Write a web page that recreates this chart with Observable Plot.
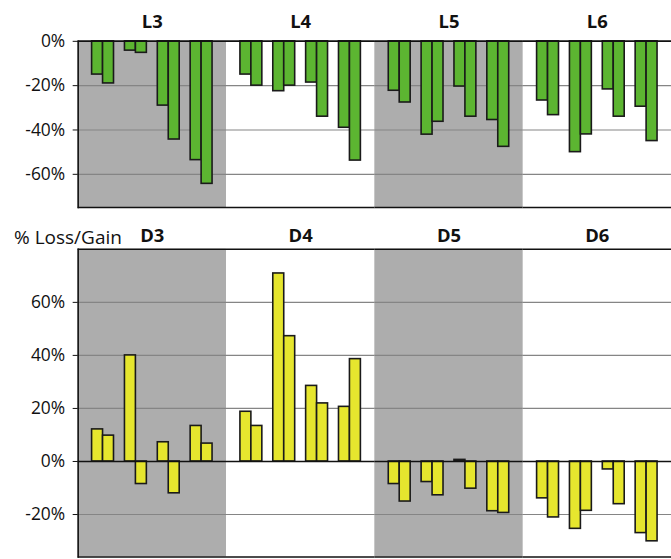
<!DOCTYPE html>
<html><head><meta charset="utf-8">
<script src="https://cdn.jsdelivr.net/npm/d3@7"></script>
<script src="https://cdn.jsdelivr.net/npm/@observablehq/plot@0.6"></script>
<style>
html,body{margin:0;padding:0;background:#fff;overflow:hidden;}
#wrap{position:relative;width:671px;height:559px;overflow:hidden;font-family:"Open Sans",sans-serif;}
#wrap svg{display:block;}
#ylab{position:absolute;left:14px;top:225px;font-size:19px;line-height:24px;color:#111;white-space:nowrap;}
</style></head><body>
<div id="wrap"><div id="top"></div><div id="bottom"></div><div id="ylab">% Loss/Gain</div></div>
<script>
// Top panel (loss)
const lossFacets = ["L3", "L4", "L5", "L6"];
const lossL3 = [-15, -19, -4.2, -5.2, -29, -44.3, -53.6, -64.3];
const lossL4 = [-15, -20, -22.5, -20, -18.6, -34, -39, -53.8];
const lossL5 = [-22.3, -27.6, -42.1, -36.3, -20.4, -34, -35.5, -47.6];
const lossL6 = [-26.7, -33.3, -50, -42, -21.7, -34, -29.5, -45];
const lossTicks = [0, -20, -40, -60];
const lossGrid = [-20, -40, -60];
const lossDomain = [-75, 0];

// Bottom panel (gain)
const gainFacets = ["D3", "D4", "D5", "D6"];
const gainD3 = [12.1, 9.75, 40, -8.5, 7.25, -12, 13.4, 6.75];
const gainD4 = [18.75, 13.4, 70.9, 47.25, 28.5, 21.9, 20.6, 38.6];
const gainD5 = [-8.5, -15.1, -7.75, -12.75, 0.6, -10.25, -18.75, -19.4];
const gainD6 = [-13.9, -21.1, -25.4, -18.6, -3, -16.1, -27, -30.1];
const gainTicks = [-20, 0, 20, 40, 60];
const gainGrid = [-20, 20, 40, 60];
const gainDomain = [-36, 80];

const GRAY = "#adadad";
const slots = d3.range(11);
const hasAxisMarks = typeof Plot.axisY === "function";

function toRows(facets, series) {
  return facets.flatMap((f, fi) => series[fi].map((v, i) => ({
    facet: f,
    slot: Math.floor(i / 2) * 3 + (i % 2),
    value: v
  })));
}

function panel({facets, rows, domain, ticks, grid, fill, height, marginTop, marginBottom, labelDy}) {
  const fmt = d => d + "%";
  const axisMarks = hasAxisMarks ? [
    Plot.axisY({ticks, tickFormat: fmt, tickSize: 5, tickPadding: 8, fontSize: 17.5, label: null, fill: "#111", stroke: "#111"}),
    Plot.frame({anchor: "left", facetAnchor: "left", stroke: "#111", strokeWidth: 1.6})
  ] : [];
  return Plot.plot({
    width: 674, height, marginTop, marginBottom, marginLeft: 78, marginRight: 0,
    style: {fontFamily: "'Open Sans', sans-serif", fontSize: "17px", color: "#111", background: "white", overflow: "visible"},
    fx: {domain: facets, padding: 0, axis: null},
    x: {domain: slots, paddingInner: 0, paddingOuter: 0.75, axis: null},
    y: hasAxisMarks ? {domain, axis: null} : {domain, ticks, tickFormat: fmt, tickSize: 5, tickPadding: 9, line: true, label: null},
    marks: [
      Plot.barY(facets.filter((_, i) => i % 2 === 0), {fx: d => d, y1: () => domain[0], y2: () => domain[1], fill: GRAY}),
      Plot.ruleY(grid, {stroke: "#858585", strokeWidth: 1.2}),
      Plot.ruleY(domain, {stroke: "#111", strokeWidth: 1.6}),
      Plot.barY(rows, {fx: "facet", x: "slot", y: "value", fill, stroke: "#1a1a1a", strokeWidth: 1.6}),
      Plot.ruleY([0], {stroke: "#111", strokeWidth: 1.6}),
      ...axisMarks,
      Plot.text(facets, {fx: d => d, text: d => d, frameAnchor: "top", lineAnchor: "middle", dy: labelDy, fontWeight: "bold", fontSize: 18.5, fill: "#111"})
    ]
  });
}

document.getElementById("top").append(panel({
  facets: lossFacets,
  rows: toRows(lossFacets, [lossL3, lossL4, lossL5, lossL6]),
  domain: lossDomain, ticks: lossTicks, grid: lossGrid,
  fill: "#5cb531", height: 212, marginTop: 41, marginBottom: 4, labelDy: -19
}));

document.getElementById("bottom").append(panel({
  facets: gainFacets,
  rows: toRows(gainFacets, [gainD3, gainD4, gainD5, gainD6]),
  domain: gainDomain, ticks: gainTicks, grid: gainGrid,
  fill: "#e6e62e", height: 347, marginTop: 38, marginBottom: 0, labelDy: -13
}));
</script>
</body></html>
